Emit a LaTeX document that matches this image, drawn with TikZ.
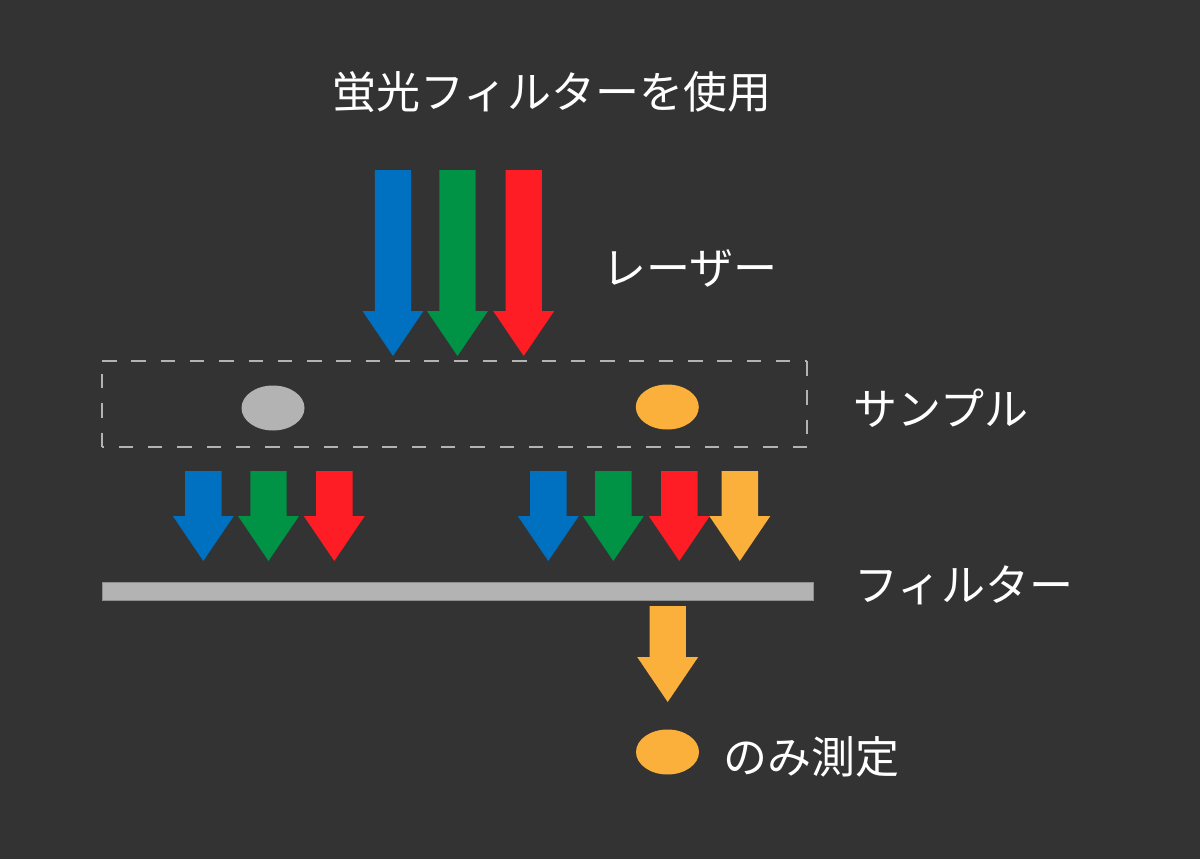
\documentclass[tikz,border=0pt]{standalone}
\usepackage{fontspec}
\newfontfamily\jpfont{Noto Sans CJK JP}
\definecolor{bg}{HTML}{333333}
\definecolor{cblue}{HTML}{0070C0}
\definecolor{cgreen}{HTML}{009245}
\definecolor{cred}{HTML}{FF1D25}
\definecolor{corange}{HTML}{FBB03B}
\definecolor{cgray}{HTML}{B3B3B3}
\usetikzlibrary{shapes.geometric}
\tikzset{
  lbl/.style={text=white, inner sep=0pt, font=\jpfont\fontsize{44}{50}\selectfont},
  dot/.style={ellipse, minimum width=63pt, minimum height=45pt, inner sep=0pt},
  dashside/.style={cgray, line width=2.6pt, dash pattern=on 14.5pt off 14.8pt},
}
% \dnarrow{color}{center x}{top y}{head start y}
\newcommand\dnarrow[4]{%
  \fill[#1] (#2-18.2,#3) -- (#2+18.2,#3) -- (#2+18.2,#4) -- (#2+30.5,#4)
    -- (#2,#4+45) -- (#2-30.5,#4) -- (#2-18.2,#4) -- cycle;}
\begin{document}
\begin{tikzpicture}[x=1pt,y=-1pt]
\fill[bg] (0,0) rectangle (1200,859);
\useasboundingbox (0,0) rectangle (1200,859);

% title
\node[lbl] (title) at (552,92) {蛍光フィルターを使用};

% laser arrows
\dnarrow{cblue}{393}{170}{311}
\dnarrow{cgreen}{457.5}{170}{311}
\dnarrow{cred}{523.7}{170}{311}
\node[lbl] (laser) at (690,268) {レーザー};

% sample box
\coordinate (b1) at (102,361);
\coordinate (b2) at (807,361);
\coordinate (b3) at (807,447);
\coordinate (b4) at (102,447);
\draw[dashside] (b1) -- (b2);
\draw[dashside] (b2) -- (b3);
\draw[dashside] (b3) -- (b4);
\draw[dashside] (b4) -- (b1);
\node[dot, fill=cgray] (s1) at (273,408) {};
\node[dot, fill=corange] (s2) at (667.3,407) {};
\node[lbl] (sample) at (941,408) {サンプル};

% emitted light arrows
\dnarrow{cblue}{203.3}{471}{516}
\dnarrow{cgreen}{268.5}{471}{516}
\dnarrow{cred}{334.3}{471}{516}
\dnarrow{cblue}{548.3}{471}{516}
\dnarrow{cgreen}{613.3}{471}{516}
\dnarrow{cred}{679.3}{471}{516}
\dnarrow{corange}{739.8}{471}{516}

% filter
\draw[fill=cgray, draw=cgray!80!black, line width=0.6pt] (102,582) rectangle (813,600);
\node[lbl] (filter) at (964,585) {フィルター};

% passed arrow
\dnarrow{corange}{667.7}{606}{657}

% result
\node[dot, fill=corange] (s3) at (667.5,752) {};
\node[lbl] (only) at (811,757) {のみ測定};
\end{tikzpicture}
\end{document}
